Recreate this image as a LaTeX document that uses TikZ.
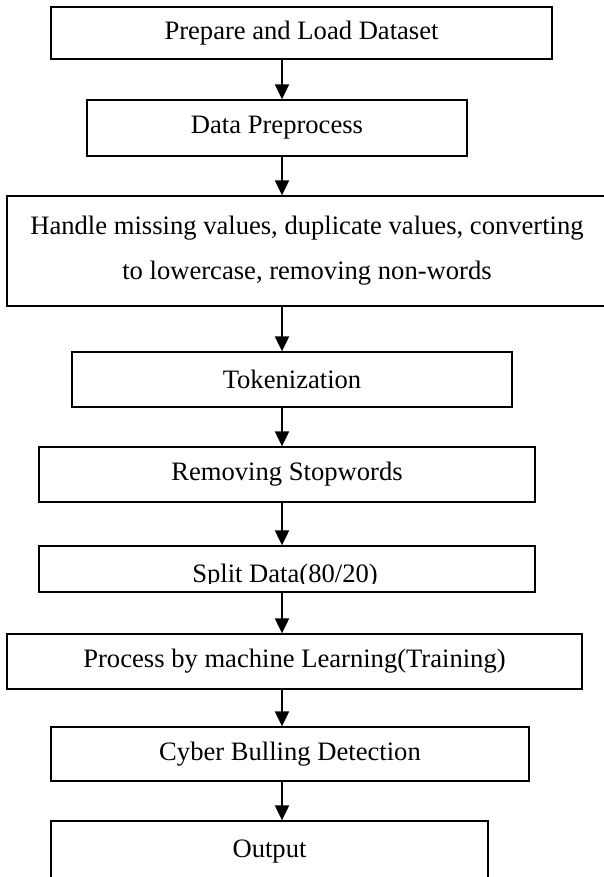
\documentclass[tikz,border=0pt]{standalone}
\usepackage{fontspec}
\setmainfont{Liberation Serif}
\usetikzlibrary{arrows.meta,calc}
\begin{document}
\begin{tikzpicture}[x=1pt,y=1pt,
  stepbox/.style={draw=black,line width=1.3pt,rectangle,inner sep=0pt,
    font=\fontsize{26.6}{45}\selectfont,align=center},
  flow/.style={line width=2pt,-{Triangle[width=14pt,length=15pt]}}]
\useasboundingbox (0,0) rectangle (603,-877);
\fill[white] (0,0) rectangle (603,-877);
\coordinate (ax) at (282,0);
\node[stepbox,minimum width=501pt,minimum height=52pt] (b1) at (301.5,-33) {Prepare and Load Dataset};
\node[stepbox,minimum width=380pt,minimum height=56pt] (b2) at (277,-128) {Data Preprocess};
\node[stepbox,minimum width=600pt,minimum height=110pt] (b3) at (307,-251) {Handle missing values, duplicate values, converting\\to lowercase, removing non-words};
\node[stepbox,minimum width=440pt,minimum height=55pt] (b4) at (292,-379.5) {Tokenization};
\node[stepbox,minimum width=496pt,minimum height=55pt] (b5) at (287,-474.5) {Removing Stopwords};
\node[stepbox,minimum width=496pt,minimum height=46pt] (b6) at (287,-569) {};
\begin{scope}
\clip (39,-546) rectangle (535,-583);
\node[font=\fontsize{26.6}{32}\selectfont,anchor=base,inner sep=0pt] (t6) at (285,-582) {Split Data(80/20)};
\end{scope}
\node[stepbox,minimum width=575pt,minimum height=55pt] (b7) at (294.5,-661.5) {Process by machine Learning(Training)};
\node[stepbox,minimum width=478pt,minimum height=54pt] (b8) at (290,-754) {Cyber Bulling Detection};
\node[stepbox,minimum width=437pt,minimum height=61pt] (b9) at (269.5,-851.5) {Output};
\draw[flow] (b1.south -| ax) -- (b2.north -| ax);
\draw[flow] (b2.south -| ax) -- (b3.north -| ax);
\draw[flow] (b3.south -| ax) -- (b4.north -| ax);
\draw[flow] (b4.south -| ax) -- (b5.north -| ax);
\draw[flow] (b5.south -| ax) -- (b6.north -| ax);
\draw[flow] (b6.south -| ax) -- (b7.north -| ax);
\draw[flow] (b7.south -| ax) -- (b8.north -| ax);
\draw[flow] (b8.south -| ax) -- (b9.north -| ax);
\end{tikzpicture}
\end{document}
